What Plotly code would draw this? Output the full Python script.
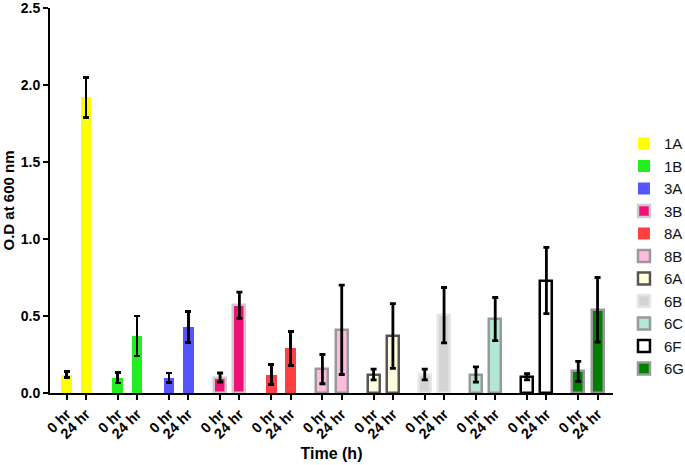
import plotly.graph_objects as go

strains = ["1A", "1B", "3A", "3B", "8A", "8B", "6A", "6B", "6C", "6F", "6G"]
time_labels = ["0 hr", "24 hr"]
od_0hr = [0.12, 0.10, 0.10, 0.10, 0.12, 0.155, 0.12, 0.12, 0.12, 0.105, 0.14]
od_24hr = [1.92, 0.37, 0.43, 0.57, 0.29, 0.41, 0.37, 0.505, 0.48, 0.73, 0.54]
err_0hr = [0.02, 0.035, 0.03, 0.03, 0.065, 0.095, 0.035, 0.035, 0.05, 0.02, 0.065]
err_24hr = [0.13, 0.13, 0.10, 0.085, 0.11, 0.29, 0.21, 0.18, 0.14, 0.215, 0.21]

fill_colors = ["#FFFF00", "#22EE22", "#5555FF", "#EE1177", "#FF4040", "#FFBBDD",
               "#FFFFDD", "#D4D4D4", "#B3E8D6", "#FFFFFF", "#007F00"]
line_colors = [None, None, None, "#CCCCCC", None, "#999999",
               "#555555", "#E6E6E6", "#999999", "#000000", "#999999"]

FONT = "Liberation Sans, Arial, sans-serif"
GROUP_STEP = 2.65

fig = go.Figure()
tickvals, ticktext = [], []
for g, name in enumerate(strains):
    xs = [g * GROUP_STEP + i for i in range(2)]
    tickvals += xs
    ticktext += time_labels
    lc = line_colors[g]
    fig.add_trace(go.Bar(
        x=xs, y=[od_0hr[g], od_24hr[g]], name=name,
        width=0.62 if lc else 0.55,
        marker=dict(color=fill_colors[g],
                    line=dict(color=lc if lc else fill_colors[g], width=2.5 if lc else 0)),
        error_y=dict(type="data", array=[err_0hr[g], err_24hr[g]],
                     color="black", thickness=2.8, width=3),
    ))

axis_common = dict(showline=True, linecolor="black", linewidth=2, ticks="outside",
                   tickcolor="black", tickwidth=2, ticklen=5, showgrid=False,
                   zeroline=False, mirror=False, automargin=False)

fig.update_layout(
    width=685, height=465,
    margin=dict(l=50, r=72, t=8, b=72, autoexpand=False),
    paper_bgcolor="white", plot_bgcolor="white",
    bargap=0, barmode="overlay",
    showlegend=True,
    legend=dict(x=1.0195, y=0.69, xanchor="left", yanchor="top",
                font=dict(family=FONT, size=15, color="#111111"),
                bgcolor="rgba(0,0,0,0)", tracegroupgap=0),
    font=dict(family=FONT, color="black"),
    xaxis=dict(**axis_common, range=[-0.86, 28.3], tickvals=tickvals, ticktext=ticktext,
               tickangle=-45, tickfont=dict(family=FONT, size=14.5, color="black", weight="bold"),
               title=dict(text="<b>Time (h)</b>", font=dict(family=FONT, size=16), standoff=7)),
    yaxis=dict(**axis_common, range=[0, 2.5], tickvals=[0, 0.5, 1.0, 1.5, 2.0, 2.5],
               ticklabeloverflow="allow",
               tickformat=".1f", tickfont=dict(family=FONT, size=14, color="black", weight="bold"),
               title=dict(text="<b>O.D at 600 nm</b>", font=dict(family=FONT, size=15), standoff=4)),
)

fig.write_html("out.html", config={"displayModeBar": False},
               post_script="document.body.style.margin='0';")
